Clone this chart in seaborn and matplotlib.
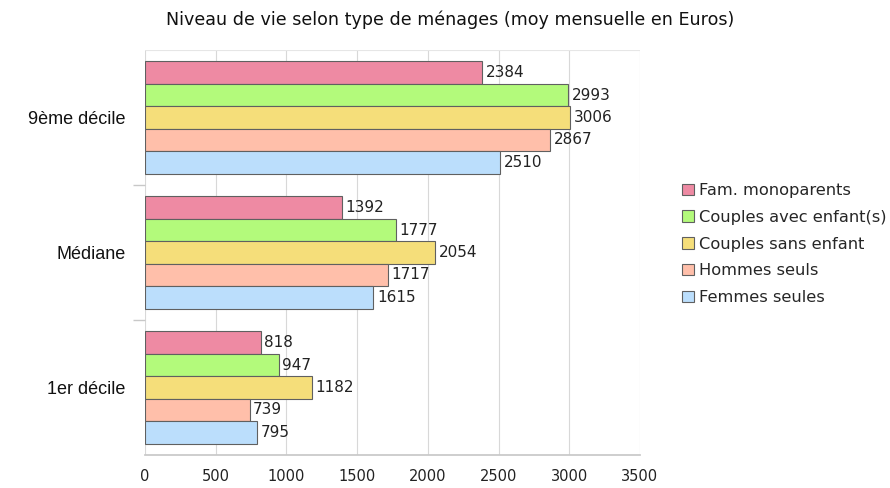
import matplotlib
matplotlib.use("Agg")
import matplotlib.pyplot as plt
import seaborn as sns
import pandas as pd

categories = ["9ème décile", "Médiane", "1er décile"]
series = ["Fam. monoparents", "Couples avec enfant(s)", "Couples sans enfant", "Hommes seuls", "Femmes seules"]
fam_mono = [2384, 1392, 818]
couples_enf = [2993, 1777, 947]
couples_sans = [3006, 2054, 1182]
hommes = [2867, 1717, 739]
femmes = [2510, 1615, 795]
colors = ["#ee8aa3", "#b3fa7b", "#f5de7a", "#ffbfaa", "#bbdefc"]

values = [fam_mono, couples_enf, couples_sans, hommes, femmes]
rows = []
for s, vals in zip(series, values):
    for c, v in zip(categories, vals):
        rows.append({"cat": c, "serie": s, "val": v})
df = pd.DataFrame(rows)

sns.set_theme(style="white")
plt.rcParams["font.family"] = ["DejaVu Sans"]

fig = plt.figure(figsize=(8.9, 4.88), dpi=100)
ax = fig.add_axes([145/890, 1-455/488, (640-145)/890, (455-50)/488])

sns.barplot(data=df, y="cat", x="val", hue="serie", order=categories, hue_order=series,
            palette=colors, saturation=1, orient="h", width=0.83, edgecolor="#606060",
            linewidth=0.8, ax=ax, legend=True)

for cont in ax.containers:
    ax.bar_label(cont, labels=[f"{int(w)}" for w in cont.datavalues], padding=2.5,
                 fontsize=11, color="#222222")

ax.set_xlim(0, 3500)
ax.set_ylim(2.5, -0.5)
ax.set_xticks(range(0, 3501, 500))
ax.set_xlabel("")
ax.set_ylabel("")
ax.grid(axis="x", color="#d8d8d8", linewidth=0.8)
ax.set_axisbelow(True)
for sp in ["top", "right", "left"]:
    ax.spines[sp].set_visible(False)
ax.spines["bottom"].set_color("#c8c8c8")
ax.axhline(-0.5, color="#e6e6e6", linewidth=0.8)
ax.tick_params(axis="x", length=6, color="#c8c8c8", labelsize=10.5, pad=4, labelcolor="#222222")
ax.tick_params(axis="y", length=0, labelsize=13, pad=14, labelcolor="#111111")
for lab in ax.get_yticklabels():
    lab.set_family(["Liberation Sans", "DejaVu Sans"])
ax.set_yticks([0.5, 1.5], minor=True)
ax.tick_params(axis="y", which="minor", length=9, color="#c8c8c8", left=True)

leg = ax.legend(loc="upper left", bbox_to_anchor=(674/890, 1-175/488), bbox_transform=fig.transFigure,
                frameon=False, fontsize=11.7, handlelength=0.7, handleheight=0.7,
                handletextpad=0.35, labelspacing=0.72, borderpad=0)
for h in leg.legend_handles:
    h.set_edgecolor("#606060")
    h.set_linewidth(0.8)

fig.text(450/890, 1-20/488, "Niveau de vie selon type de ménages (moy mensuelle en Euros)",
         ha="center", va="center", fontsize=12.6, color="#111111")

fig.savefig("out.png", dpi=100)
